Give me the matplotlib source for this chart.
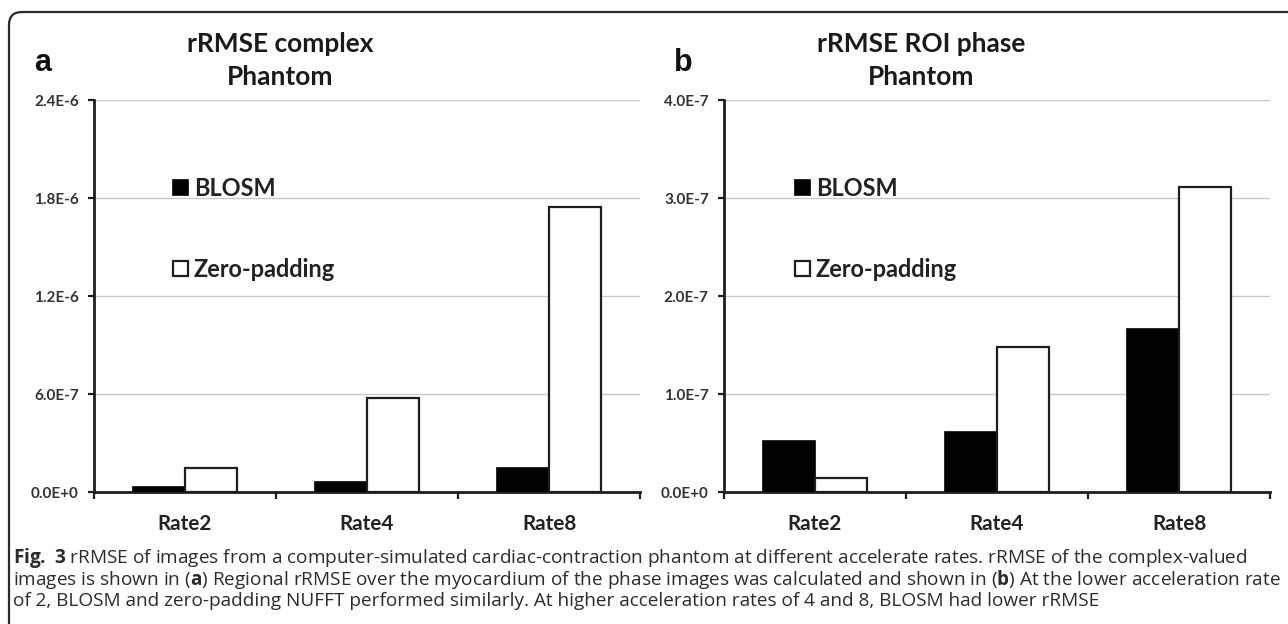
import matplotlib
matplotlib.use("Agg")
import matplotlib.pyplot as plt
from matplotlib.patches import FancyBboxPatch
import numpy as np

# ---- data ----
categories = ["Rate2", "Rate4", "Rate8"]
series_names = ["BLOSM", "Zero-padding"]

complex_blosm = [3.2e-8, 5.9e-8, 1.47e-7]
complex_zero = [1.45e-7, 5.74e-7, 1.745e-6]
complex_ticks = [0.0, 6.0e-7, 1.2e-6, 1.8e-6, 2.4e-6]
complex_ticklabels = ["0.0E+0", "6.0E-7", "1.2E-6", "1.8E-6", "2.4E-6"]

phase_blosm = [5.2e-8, 6.1e-8, 1.66e-7]
phase_zero = [1.43e-8, 1.48e-7, 3.115e-7]
phase_ticks = [0.0, 1.0e-7, 2.0e-7, 3.0e-7, 4.0e-7]
phase_ticklabels = ["0.0E+0", "1.0E-7", "2.0E-7", "3.0E-7", "4.0E-7"]

caption_lines = [
    r"$\mathbf{Fig.}$ $\mathbf{3}$ rRMSE of images from a computer-simulated cardiac-contraction phantom at different accelerate rates. rRMSE of the complex-valued",
    r"images is shown in ($\mathbf{a}$) Regional rRMSE over the myocardium of the phase images was calculated and shown in ($\mathbf{b}$) At the lower acceleration rate",
    r"of 2, BLOSM and zero-padding NUFFT performed similarly. At higher acceleration rates of 4 and 8, BLOSM had lower rRMSE",
]

# ---- style ----
plt.rcParams["mathtext.fontset"] = "custom"
plt.rcParams["mathtext.rm"] = "Open Sans"
plt.rcParams["mathtext.bf"] = "Open Sans:bold"

W, H = 1288, 624
fig = plt.figure(figsize=(W / 100, H / 100), dpi=100)
fig.patch.set_facecolor("white")
renderer = fig.canvas.get_renderer()

INK = "#1e1e1e"
CHART_FONT = "Lato"


def px(x, y):
    """pixel position (from top-left) to figure fraction"""
    return x / W, (H - y) / H


def size_for_width(text, width_px, **kw):
    """font size (pt) at which `text` spans `width_px` pixels"""
    size = 12.0
    t = fig.text(0, 0, text, fontsize=size, **kw)
    for _ in range(4):
        w = t.get_window_extent(renderer).width
        size *= width_px / w
        t.set_fontsize(size)
    t.remove()
    return size


bold_chart = dict(fontfamily=CHART_FONT, fontweight="bold")
TITLE_PT = size_for_width("rRMSE complex", 186, **bold_chart)
LEGEND_PT = size_for_width("Zero-padding", 141, **bold_chart)
CAT_PT = size_for_width("Rate2", 54, **bold_chart)
YTICK_PT = size_for_width("2.4E-6", 45, **bold_chart)
CAPTION_PT = size_for_width(caption_lines[1], 1270, fontfamily="Open Sans")
LEGEND_PX = LEGEND_PT * 100 / 72


def draw_panel(left_px, blosm, zero, ticks, ticklabels, title1, title2, title_cx, letter, letter_x, legend_x):
    ax = fig.add_axes([left_px / W, (H - 492) / H, 546 / W, 392 / H])
    x = np.arange(len(categories))
    bw = 0.286
    b1 = ax.bar(x - bw / 2, blosm, width=bw, color="black", edgecolor="black", linewidth=1.2, zorder=3,
                label=series_names[0])
    b2 = ax.bar(x + bw / 2, zero, width=bw, color="white", edgecolor=INK, linewidth=1.6, zorder=3,
                label=series_names[1])

    ax.set_xlim(-0.5, len(categories) - 0.5)
    ax.set_ylim(ticks[0], ticks[-1])
    ax.set_yticks(ticks)
    ax.set_yticklabels(ticklabels)
    ax.yaxis.grid(True, color="#c9c9c9", linewidth=1.0, zorder=0)
    ax.set_axisbelow(True)

    ax.set_xticks(x)
    ax.set_xticklabels(categories)
    ax.set_xticks(np.arange(len(categories) + 1) - 0.5, minor=True)
    ax.tick_params(axis="x", which="major", length=0, pad=16)
    ax.tick_params(axis="x", which="minor", length=5, width=1.6, direction="out", color=INK)
    ax.tick_params(axis="y", which="major", length=4, width=1.6, direction="out", color=INK, pad=7)

    for lab in ax.get_xticklabels():
        lab.set_fontfamily(CHART_FONT)
        lab.set_fontweight("bold")
        lab.set_fontsize(CAT_PT)
        lab.set_color("#222222")
    for lab in ax.get_yticklabels():
        lab.set_fontfamily(CHART_FONT)
        lab.set_fontweight("bold")
        lab.set_fontsize(YTICK_PT)
        lab.set_color("#333333")

    for s in ("top", "right"):
        ax.spines[s].set_visible(False)
    for s in ("left", "bottom"):
        ax.spines[s].set_linewidth(2.0)
        ax.spines[s].set_color(INK)

    # legend: two entries, square handles ~15 px, rows ~82 px apart
    leg = ax.legend(handles=[b1, b2], loc="upper left",
                    bbox_to_anchor=((legend_x - left_px) / 546, (492 - 177) / 392),
                    frameon=False, borderpad=0, borderaxespad=0,
                    handlelength=15 / LEGEND_PX, handleheight=15 / LEGEND_PX,
                    handletextpad=6 / LEGEND_PX,
                    labelspacing=2.45,
                    prop={"family": CHART_FONT, "weight": "bold", "size": LEGEND_PT})
    for t in leg.get_texts():
        t.set_color("#222222")

    fig.text(*px(title_cx, 52), title1, ha="center", va="baseline", fontsize=TITLE_PT,
             color="#1a1a1a", **bold_chart)
    fig.text(*px(title_cx, 85), title2, ha="center", va="baseline", fontsize=TITLE_PT,
             color="#1a1a1a", **bold_chart)
    fig.text(*px(letter_x, 71), letter, ha="left", va="baseline", fontfamily="Liberation Sans",
             fontweight="bold", fontsize=22, color="#111111")
    return ax


draw_panel(94, complex_blosm, complex_zero, complex_ticks, complex_ticklabels,
           "rRMSE complex", "Phantom", 280, "a", 34, 173)
draw_panel(724, phase_blosm, phase_zero, phase_ticks, phase_ticklabels,
           "rRMSE ROI phase", "Phantom", 921, "b", 674, 795)

# caption block
for i, line in enumerate(caption_lines):
    fig.text(*px(13, 563 + i * 21.7), line, ha="left", va="baseline", fontfamily="Open Sans",
             fontsize=CAPTION_PT, color="#2b2b2b")

# frame with rounded top-left corner (open at right and bottom)
frame = FancyBboxPatch((0.09, -1.0), 20.0, 6.12 + 1.0,
                       boxstyle="round,pad=0,rounding_size=0.13",
                       transform=fig.dpi_scale_trans, facecolor="none",
                       edgecolor="#2a2a2a", linewidth=1.6, clip_on=False)
fig.patches.append(frame)

fig.savefig("out.png", dpi=100, facecolor="white")
